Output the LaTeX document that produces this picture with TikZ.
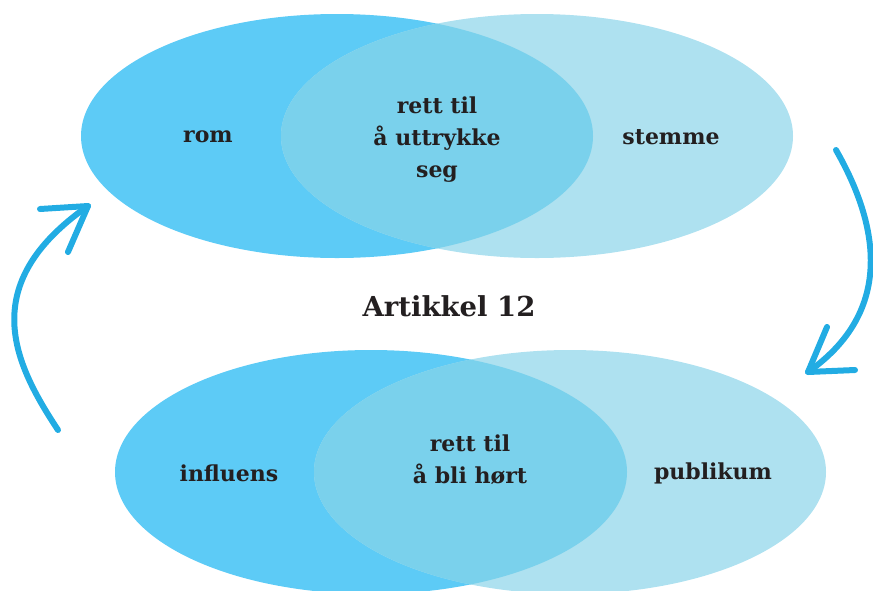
\documentclass[tikz,border=0pt]{standalone}
\usepackage{fontspec}
\setmainfont{DejaVu Serif}
\definecolor{leftblue}{HTML}{5DCBF6}
\definecolor{rightblue}{HTML}{AEE1F0}
\definecolor{overlapblue}{HTML}{7AD1EC}
\definecolor{arrowblue}{HTML}{22ACE3}
\definecolor{textdark}{HTML}{231F20}
\tikzset{
  lbl/.style={text=textdark, align=center, inner sep=0pt,
    font=\fontsize{22}{32}\selectfont\bfseries},
  titlelbl/.style={text=textdark, inner sep=0pt,
    font=\fontsize{27.5}{34}\selectfont\bfseries},
  arrowline/.style={draw=arrowblue, line width=6pt, line cap=round, line join=round},
  ell/.style={x radius=256pt, y radius=122pt}
}
\begin{document}
\begin{tikzpicture}[x=1pt,y=-1pt]
\useasboundingbox (0,0) rectangle (873,590);
% top pair
\fill[leftblue] (337,136) ellipse [ell];
\fill[rightblue] (537,136) ellipse [ell];
\begin{scope}
  \clip (337,136) ellipse [ell];
  \fill[overlapblue] (537,136) ellipse [ell];
\end{scope}
% bottom pair
\fill[leftblue] (371,472) ellipse [ell];
\fill[rightblue] (570,472) ellipse [ell];
\begin{scope}
  \clip (371,472) ellipse [ell];
  \fill[overlapblue] (570,472) ellipse [ell];
\end{scope}
% labels
\node[lbl] (rom) at (208,137) {rom};
\node[lbl] (stemme) at (671,137) {stemme};
\node[lbl] (uttrykke) at (437,140) {rett til\\å uttrykke\\seg};
\node[titlelbl] (title) at (449,306) {Artikkel 12};
\node[lbl] (influens) at (229,473) {influens};
\node[lbl] (publikum) at (713,473) {publikum};
\node[lbl] (hort) at (470,460) {rett til\\å bli hørt};
% left arrow
\coordinate (la0) at (58,430);
\coordinate (latip) at (88,206);
\coordinate (la1) at (40,209);
\coordinate (la2) at (68,252);
\draw[arrowline] (la0) .. controls (14.5,364) and (-25,285) .. (latip);
\draw[arrowline] (la1) -- (latip) -- (la2);
% right arrow
\coordinate (ra0) at (836,150);
\coordinate (ratip) at (808,372);
\coordinate (ra1) at (827,327);
\coordinate (ra2) at (855,370);
\draw[arrowline] (ra0) .. controls (872,213) and (902,306) .. (ratip);
\draw[arrowline] (ra1) -- (ratip) -- (ra2);
\end{tikzpicture}
\end{document}
